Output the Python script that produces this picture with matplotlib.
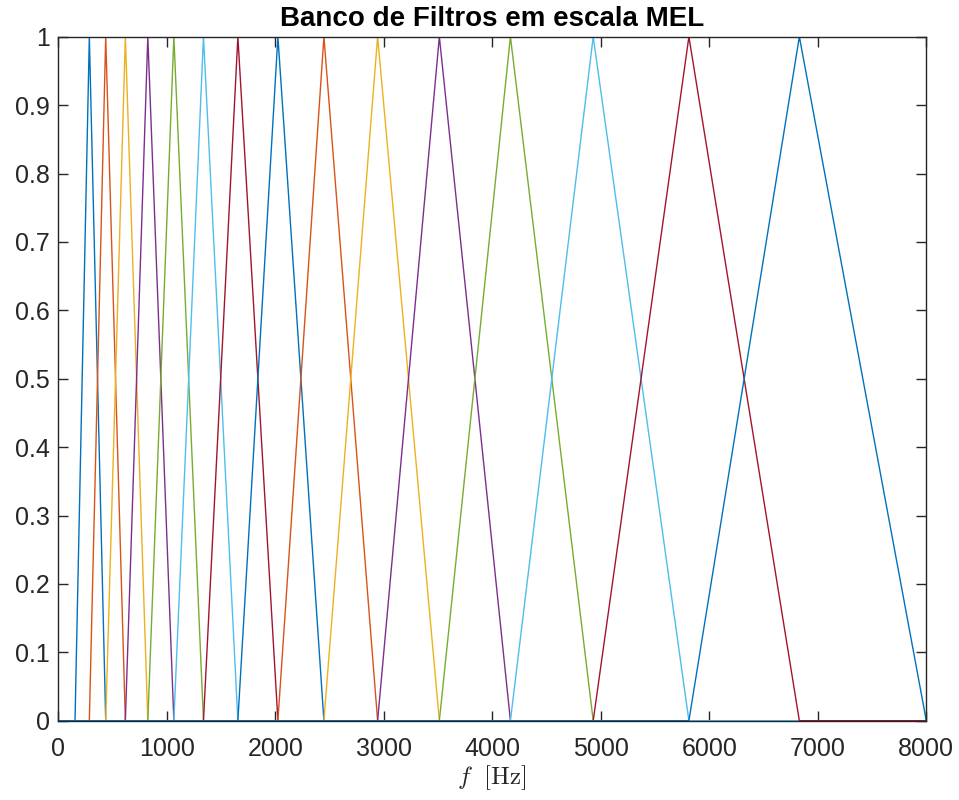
import matplotlib
matplotlib.use("Agg")
import matplotlib.pyplot as plt

# Filter edge frequencies (Hz): filter i spans edges[i]..edges[i+2], peak at edges[i+1]
edges = [154, 286, 437, 618, 825, 1065, 1338, 1655, 2024, 2448, 2943, 3512, 4167, 4930, 5812, 6830, 8000]
f_min, f_max = 0, 8000
colors = ["#0072BD", "#D95319", "#EDB120", "#7E2F8E", "#77AC30", "#4DBEEE", "#A2142F"]
xticks = [0, 1000, 2000, 3000, 4000, 5000, 6000, 7000, 8000]
yticks = [0, 0.1, 0.2, 0.3, 0.4, 0.5, 0.6, 0.7, 0.8, 0.9, 1]
ytick_labels = ["0", "0.1", "0.2", "0.3", "0.4", "0.5", "0.6", "0.7", "0.8", "0.9", "1"]

plt.rcParams['font.family'] = ['Liberation Sans', 'DejaVu Sans']
plt.rcParams['mathtext.fontset'] = 'cm'

fig = plt.figure(figsize=(9.59, 8.0), dpi=100)
ax = fig.add_axes([58.3/959, 1 - 720.7/800, (926.3-58.3)/959, (720.7-36.7)/800])

n_filters = len(edges) - 2
for i in range(n_filters):
    l, c, r = edges[i], edges[i+1], edges[i+2]
    xs = [f_min, l, c, r, f_max]
    ys = [0, 0, 1, 0, 0]
    ax.plot(xs, ys, color=colors[i % len(colors)], linewidth=1.0, solid_joinstyle='miter')

ax.set_xlim(0, 8000)
ax.set_ylim(0, 1)
ax.set_xticks(xticks)
ax.set_xticklabels([str(t) for t in xticks])
ax.set_yticks(yticks)
ax.set_yticklabels(ytick_labels)
ax.tick_params(direction='in', length=7, width=1.0, top=True, right=True,
               labelsize=18, colors='#262626')
ax.tick_params(axis='x', pad=12)
ax.tick_params(axis='y', pad=6)
for s in ax.spines.values():
    s.set_linewidth(1.0)
    s.set_color('#262626')
ax.set_title("Banco de Filtros em escala MEL", fontsize=20, fontweight='bold', pad=8)
ax.set_xlabel(r"$f\ \ [\mathrm{Hz}]$", fontsize=18, labelpad=1, color='#262626')

fig.savefig("out.png", dpi=100)
